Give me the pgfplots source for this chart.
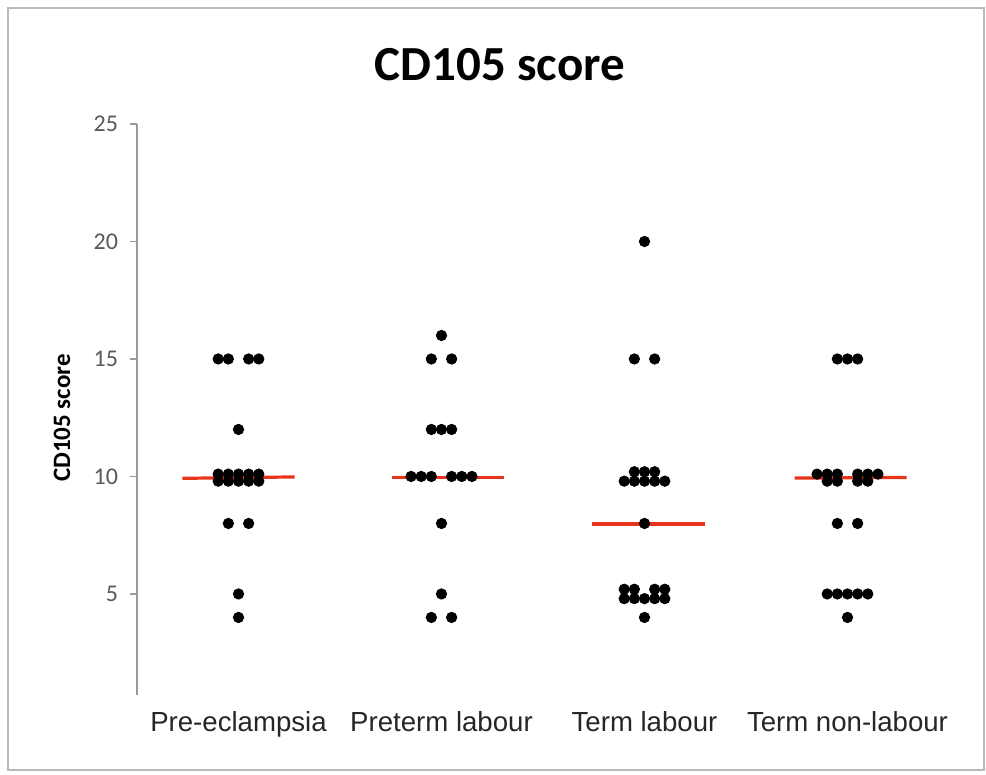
\documentclass[border=0pt]{standalone}
\usepackage{pgfplots}
\pgfplotsset{compat=1.18}
\usepackage{fontspec}
\setmainfont{Carlito}
\newfontfamily\arialfont{Liberation Sans}
\definecolor{tickgray}{HTML}{595959}
\definecolor{axgray}{HTML}{9A9A9A}
\definecolor{medred}{HTML}{E8341C}
\begin{document}
\begin{tikzpicture}
\begin{axis}[
  scale only axis,
  width=406pt, height=285.5pt,
  xmin=0.5, xmax=4.5, ymin=0.7, ymax=25,
  axis lines*=left,
  x axis line style={draw=none},
  y axis line style={draw=axgray, line width=0.8pt},
  xtick={1,2,3,4},
  xticklabels={Pre-eclampsia, Preterm labour, Term labour, Term non-labour},
  xtick style={draw=none},
  ytick={5,10,15,20,25},
  ytick style={draw=axgray, line width=0.8pt},
  tick align=outside,
  major tick length=3.5pt,
  /pgf/number format/assume math mode=true,
  yticklabel style={font=\fontsize{12}{14}\selectfont, text=tickgray, xshift=-2.5pt},
  xticklabel style={font=\arialfont\fontsize{13.8}{16}\selectfont, text=black!85, yshift=-1pt},
  ylabel={CD105 score},
  ylabel style={font=\fontsize{12.5}{14}\selectfont\bfseries, at={(axis description cs:-0.0924,0.485)}, anchor=center, rotate=0},
  clip=false,
]
% Pre-eclampsia
\addplot[only marks, mark=*, mark size=2.6pt, black] coordinates {
 (0.90,15) (0.95,15) (1.05,15) (1.10,15)
 (1.00,12)
 (0.90,10.1) (0.95,10.1) (1.00,10.1) (1.05,10.1) (1.10,10.1)
 (0.90,9.8) (0.95,9.8) (1.00,9.8) (1.05,9.8) (1.10,9.8)
 (0.95,8) (1.05,8)
 (1.00,5) (1.00,4)
};
% Preterm labour
\addplot[only marks, mark=*, mark size=2.6pt, black] coordinates {
 (2.00,16)
 (1.95,15) (2.05,15)
 (1.95,12) (2.00,12) (2.05,12)
 (1.85,10) (1.90,10) (1.95,10) (2.05,10) (2.10,10) (2.15,10)
 (2.00,8) (2.00,5)
 (1.95,4) (2.05,4)
};
% Term labour
\addplot[only marks, mark=*, mark size=2.6pt, black] coordinates {
 (3.00,20)
 (2.95,15) (3.05,15)
 (2.95,10.2) (3.00,10.2) (3.05,10.2)
 (2.90,9.8) (2.95,9.8) (3.00,9.8) (3.05,9.8) (3.10,9.8)
 (3.00,8)
 (2.90,5.2) (2.95,5.2) (3.05,5.2) (3.10,5.2)
 (2.90,4.8) (2.95,4.8) (3.00,4.8) (3.05,4.8) (3.10,4.8)
 (3.00,4)
};
% Term non-labour
\addplot[only marks, mark=*, mark size=2.6pt, black] coordinates {
 (3.95,15) (4.00,15) (4.05,15)
 (3.85,10.1) (3.90,10.1) (3.95,10.1) (4.05,10.1) (4.10,10.1) (4.15,10.1)
 (3.90,9.8) (3.95,9.8) (4.05,9.8) (4.10,9.8)
 (3.95,8) (4.05,8)
 (3.90,5) (3.95,5) (4.00,5) (4.05,5) (4.10,5)
 (4.00,4)
};
% medians
\addplot[medred, line width=1.6pt] coordinates {(0.724,9.92) (1.276,9.98)};
\addplot[medred, line width=1.6pt] coordinates {(1.758,9.96) (2.310,9.96)};
\addplot[medred, line width=1.6pt] coordinates {(2.739,7.98) (3.296,7.98)};
\addplot[medred, line width=1.6pt] coordinates {(3.739,9.93) (4.291,9.96)};
\end{axis}
\node[font=\fontsize{24.5}{28}\selectfont\bfseries, anchor=center] at (181.5pt,315pt) {CD105 score};
\draw[gray!55, line width=0.8pt] (-64.5pt,-37.5pt) rectangle (423.5pt,343.5pt);
\pgfresetboundingbox
\useasboundingbox (-68.5pt,-40pt) rectangle (424.5pt,347.5pt);
\end{tikzpicture}
\end{document}
